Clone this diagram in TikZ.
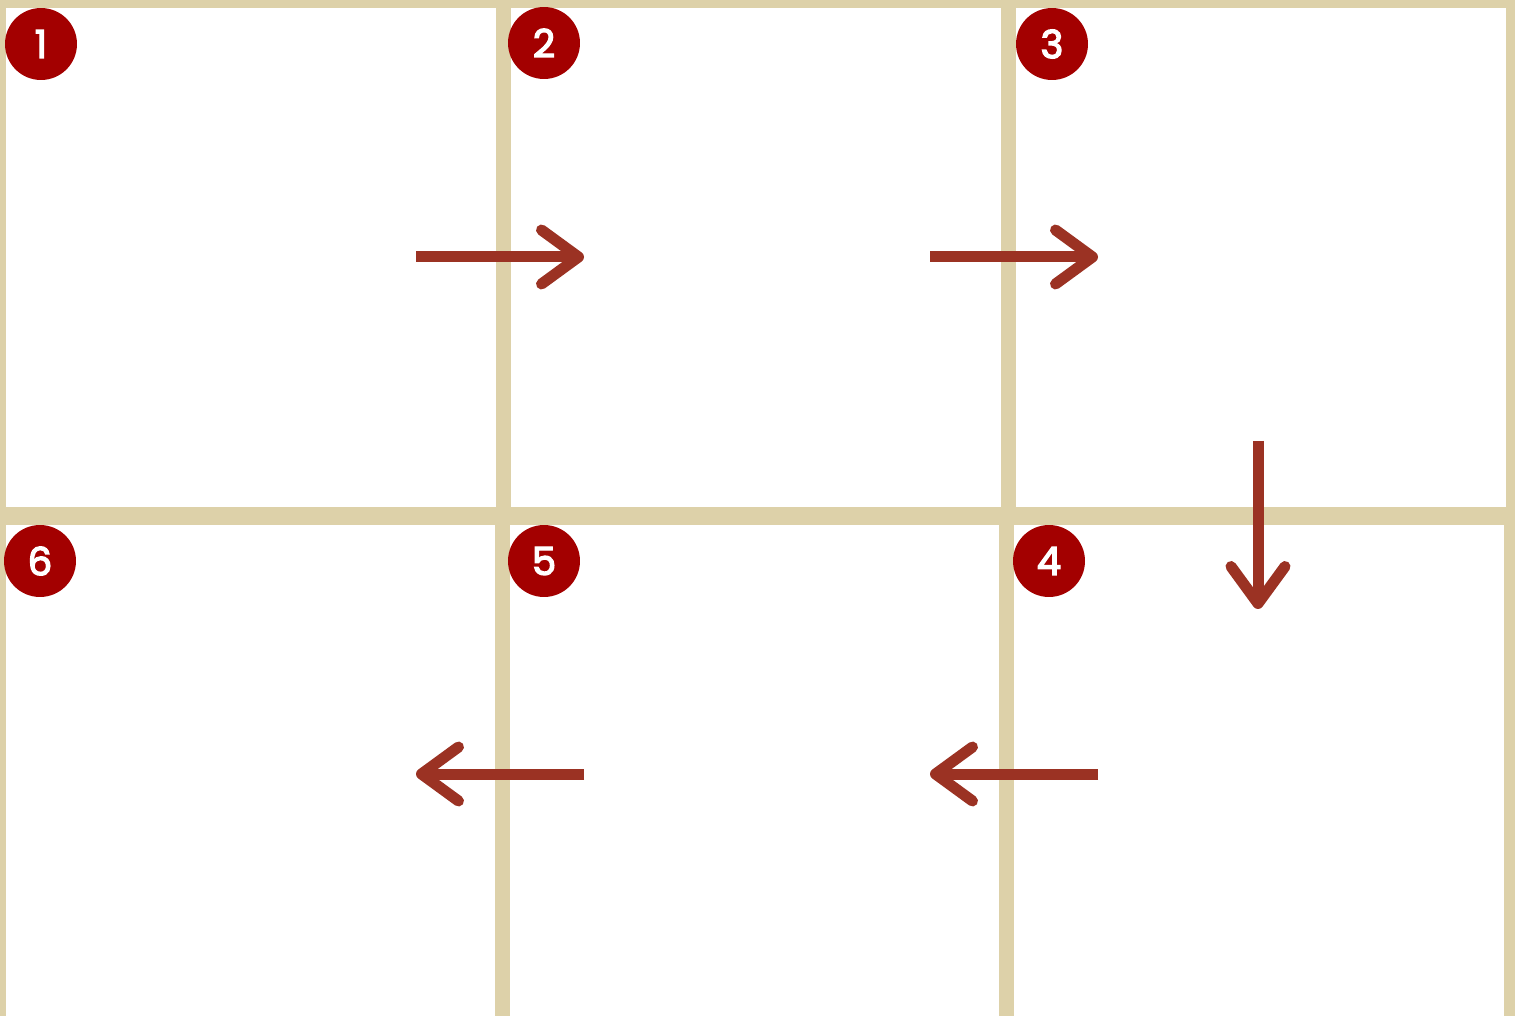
\documentclass[tikz,border=0pt]{standalone}
\usepackage{fontspec}
\newfontfamily\badgefont[FakeBold=3.5]{Poppins}
\usetikzlibrary{arrows.meta}
\definecolor{frame}{HTML}{DDD1A9}
\definecolor{badgered}{HTML}{A30000}
\definecolor{flowred}{HTML}{9B3223}
\tikzset{
  panel/.style={fill=white},
  badge/.style={circle,fill=badgered,text=white,inner sep=0pt,
    minimum size=1.44cm,font=\badgefont\fontsize{22}{22}\selectfont},
  flow/.style={-{Straight Barb[length=0.74cm,width=1.08cm,round]},
    line width=0.22cm,flowred}
}

\begin{document}
\begin{tikzpicture}[x=0.02cm,y=-0.02cm]
\fill[frame] (0,0) rectangle (1515,1016);
\useasboundingbox (0,0) rectangle (1515,1016);
% top row
\fill[panel] (6,8) rectangle (496,507);
\fill[panel] (511,8) rectangle (1001,507);
\fill[panel] (1016,8) rectangle (1506,507);
% bottom row
\fill[panel] (6,525) rectangle (495,1016);
\fill[panel] (510,525) rectangle (999,1016);
\fill[panel] (1014,525) rectangle (1504,1016);
% badges
\node[badge] (b1) at (41,44) {1};
\node[badge] (b2) at (544,43) {2};
\node[badge] (b3) at (1052,44) {3};
\node[badge] (b4) at (1049,561) {4};
\node[badge] (b5) at (544,561) {5};
\node[badge] (b6) at (40,561) {6};
% arrow ends
\coordinate (s12) at (416,257);
\coordinate (e12) at (584,257);
\coordinate (s23) at (930,257);
\coordinate (e23) at (1098,257);
\coordinate (s34) at (1258,441);
\coordinate (e34) at (1258,609);
\coordinate (s45) at (1098,774);
\coordinate (e45) at (930,774);
\coordinate (s56) at (584,774);
\coordinate (e56) at (416,774);
\draw[flow] (s12)--(e12);
\draw[flow] (s23)--(e23);
\draw[flow] (s34)--(e34);
\draw[flow] (s45)--(e45);
\draw[flow] (s56)--(e56);
\end{tikzpicture}
\end{document}
